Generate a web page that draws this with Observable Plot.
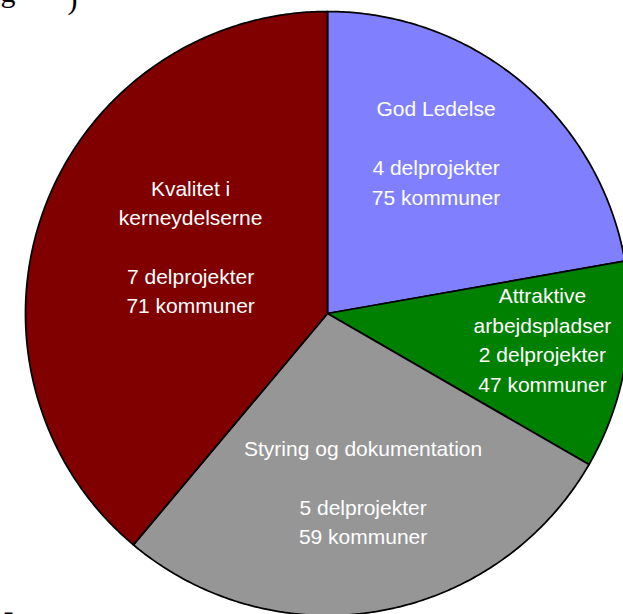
<!DOCTYPE html>
<html>
<head>
<meta charset="utf-8">
<script src="https://cdn.jsdelivr.net/npm/d3@7"></script>
<script src="https://cdn.jsdelivr.net/npm/@observablehq/plot@0.6"></script>
<style>
  html, body { margin: 0; padding: 0; background: #fff; }
  #chart { width: 623px; height: 614px; overflow: hidden; }
</style>
</head>
<body>
<div id="chart"></div>
<script>
// ---- data ----
const categories = ["God Ledelse", "Attraktive arbejdspladser", "Styring og dokumentation", "Kvalitet i kerneydelserne"];
const nameLines = [["God Ledelse", ""], ["Attraktive", "arbejdspladser"], ["Styring og dokumentation", ""], ["Kvalitet i", "kerneydelserne", ""]];
const delprojekter = [4, 2, 5, 7];
const kommuner = [75, 47, 59, 71];
const colors = ["#8080FF", "#008000", "#969696", "#800000"];

// ---- layout (label placement relative to slice) ----
const labelRadius = [0.636, 0.718, 0.612, 0.501];
const labelAngleShift = [-5.6, -2.4, -1.1, 5.2];

const W = 623, H = 614, R = 302, CX = 327, CY = 313;

const arcs = d3.pie().sort(null).value(d => d)(delprojekter);

const pts = [];
arcs.forEach((a, i) => {
  const cat = categories[i];
  pts.push({cat, u: 0, v: 0});
  const step = Math.PI / 360;
  for (let t = a.startAngle; t < a.endAngle; t += step) pts.push({cat, u: Math.sin(t), v: Math.cos(t)});
  pts.push({cat, u: Math.sin(a.endAngle), v: Math.cos(a.endAngle)});
  pts.push({cat, u: 0, v: 0});
});

const labels = arcs.map((a, i) => {
  const mid = (a.startAngle + a.endAngle) / 2 + labelAngleShift[i] * Math.PI / 180;
  return {
    u: labelRadius[i] * Math.sin(mid),
    v: labelRadius[i] * Math.cos(mid),
    text: nameLines[i].join("\n") + "\n" + delprojekter[i] + " delprojekter\n" + kommuner[i] + " kommuner"
  };
});

const chart = Plot.plot({
  width: W,
  height: H,
  margin: 0,
  style: {background: "transparent"},
  x: {domain: [-CX / R, (W - CX) / R], axis: null},
  y: {domain: [(CY - H) / R, CY / R], axis: null},
  color: {domain: categories, range: colors},
  marks: [
    Plot.line(pts, {x: "u", y: "v", z: "cat", fill: "cat", stroke: "black", strokeWidth: 1.75, strokeLinejoin: "round"}),
    Plot.text(labels, {x: "u", y: "v", text: "text", fill: "white", fontSize: 21, lineHeight: 1.4, dy: -4,
      fontFamily: "Liberation Sans, Arial, sans-serif", textAnchor: "middle"}),
    Plot.text(["g"], {frameAnchor: "top-left", dx: 0, dy: 1.5, lineAnchor: "bottom", textAnchor: "start",
      fontFamily: "Liberation Serif, serif", fontSize: 30, fill: "black"}),
    Plot.text([")"], {frameAnchor: "top-left", dx: 67, dy: 8, lineAnchor: "bottom", textAnchor: "start",
      fontFamily: "Liberation Serif, serif", fontSize: 30, fill: "black"}),
    Plot.text(["-"], {frameAnchor: "bottom-left", dx: 3, dy: 6, lineAnchor: "bottom", textAnchor: "start",
      fontFamily: "Liberation Serif, serif", fontSize: 30, fontWeight: "bold", fill: "black"})
  ]
});
document.getElementById("chart").appendChild(chart);
</script>
</body>
</html>
